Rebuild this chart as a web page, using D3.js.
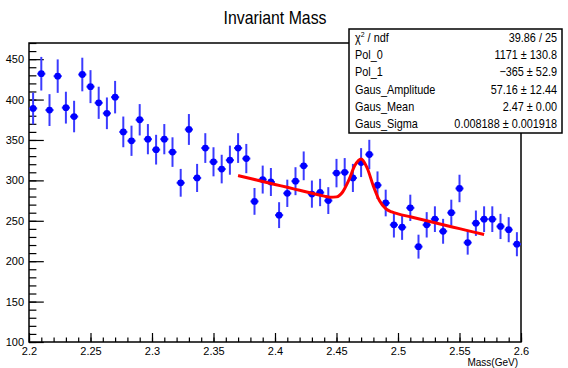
<!DOCTYPE html>
<html>
<head>
<meta charset="utf-8">
<script src="https://cdn.jsdelivr.net/npm/d3@7"></script>
<style>
  body { margin: 0; background: #fff; }
  text { font-family: "Liberation Sans", Arial, sans-serif; }
</style>
</head>
<body>
<div id="chart"></div>
<script>
// histogram: 60 bins between 2.2 and 2.6 GeV
const massRange = [2.2, 2.6];
const nBins = 60;
const counts = [389, 432, 387, 429, 390, 379, 431, 416, 396, 383,
                403, 360, 349, 375, 351, 338, 351, 335, 297, 363,
                303, 340, 323, 314, 325, 340, 327, 274, 301, 298,
                257, 284, 299, 318, 283, 285, 275, 309, 310, 303,
                322, 332, 294, 272, 245, 242, 266, 218, 245, 252,
                237, 260, 290, 223, 247, 252, 252, 243, 239, 221];
const errors = [19.7, 20.8, 19.7, 20.7, 19.7, 19.5, 20.8, 20.4, 19.9, 19.6,
                20.1, 19.0, 18.7, 19.4, 18.7, 18.4, 18.7, 18.3, 17.2, 19.1,
                17.4, 18.4, 18.0, 17.7, 18.0, 18.4, 18.1, 16.6, 17.3, 17.3,
                16.0, 16.9, 17.3, 17.8, 16.8, 16.9, 16.6, 17.6, 17.6, 17.4,
                17.9, 18.2, 17.1, 16.5, 15.7, 15.6, 16.3, 14.8, 15.7, 15.9,
                15.4, 16.1, 17.0, 14.9, 15.7, 15.9, 15.9, 15.6, 15.5, 14.9];

// fitted curve (pol1 + gaus)
const fitMass  = [2.37, 2.38, 2.39, 2.40, 2.41, 2.42, 2.43, 2.44, 2.445, 2.45,
                  2.455, 2.46, 2.465, 2.47, 2.475, 2.48, 2.485, 2.49, 2.495, 2.50,
                  2.51, 2.52, 2.53, 2.54, 2.55, 2.56, 2.57];
const fitValue = [306, 302.3, 298.7, 295, 291.4, 287.7, 284, 280.5, 279.1, 279.6,
                  285.6, 300.2, 318.7, 326.6, 315, 292.9, 274.7, 265, 260.9, 258.6,
                  254.9, 251.2, 247.6, 243.9, 240.3, 236.6, 233];

const xTicks = [2.2, 2.25, 2.3, 2.35, 2.4, 2.45, 2.5, 2.55, 2.6];
const yTicks = [100, 150, 200, 250, 300, 350, 400, 450];

const statNames  = ["χ² / ndf", "Pol_0", "Pol_1", "Gaus_Amplitude", "Gaus_Mean", "Gaus_Sigma"];
const statValues = ["39.86 / 25", "1171 ± 130.8", "−365 ± 52.9", "57.16 ± 12.44", "2.47 ± 0.00", "0.008188 ± 0.001918"];

const W = 568, H = 368;
const frame = { left: 29, right: 521, top: 43, bottom: 342 };

const svg = d3.select("#chart").append("svg")
    .attr("width", W)
    .attr("height", H);

const x = d3.scaleLinear().domain(massRange).range([frame.left, frame.right]);
const y = d3.scaleLinear().domain([100, 470]).range([frame.bottom, frame.top]);

const binW = (massRange[1] - massRange[0]) / nBins;
const bins = counts.map((c, i) => ({ m: massRange[0] + (i + 0.5) * binW, c: c, e: errors[i] }));

// title
svg.append("text")
    .attr("transform", `translate(${(frame.left + frame.right) / 2},24) scale(0.88,1)`)
    .attr("text-anchor", "middle")
    .attr("font-size", 18)
    .text("Invariant Mass");

// minor ticks
svg.append("g")
    .attr("transform", `translate(0,${frame.bottom})`)
    .call(d3.axisBottom(x).tickValues(d3.range(2.2, 2.6001, 0.01)).tickSize(-4.5).tickFormat(""))
    .call(g => g.select(".domain").remove());
svg.append("g")
    .attr("transform", `translate(${frame.left},0)`)
    .call(d3.axisLeft(y).tickValues(d3.range(100, 471, 10)).tickSize(-7.4).tickFormat(""))
    .call(g => g.select(".domain").remove());

// major ticks + labels
const xAxis = svg.append("g")
    .attr("transform", `translate(0,${frame.bottom})`)
    .call(d3.axisBottom(x).tickValues(xTicks).tickSize(-9).tickPadding(5)
        .tickFormat(d => String(+d.toFixed(2))));
xAxis.select(".domain").remove();
xAxis.selectAll("text").attr("font-size", 11).attr("font-family", "Liberation Sans").attr("fill", "#000");

const yAxis = svg.append("g")
    .attr("transform", `translate(${frame.left},0)`)
    .call(d3.axisLeft(y).tickValues(yTicks).tickSize(-14.8).tickPadding(5));
yAxis.select(".domain").remove();
yAxis.selectAll("text").attr("font-size", 11).attr("font-family", "Liberation Sans").attr("fill", "#000");

svg.selectAll(".tick line").attr("stroke", "#000").attr("stroke-width", 1.2);

svg.append("text")
    .attr("x", frame.right - 3)
    .attr("y", 366)
    .attr("text-anchor", "end")
    .attr("font-size", 10)
    .text("Mass(GeV)");

// frame
svg.append("rect")
    .attr("x", frame.left).attr("y", frame.top)
    .attr("width", frame.right - frame.left)
    .attr("height", frame.bottom - frame.top)
    .attr("fill", "none")
    .attr("stroke", "#000")
    .attr("stroke-width", 1.5);

// error bars
const pts = svg.append("g");
pts.selectAll(".ey").data(bins).enter().append("line")
    .attr("x1", d => x(d.m)).attr("x2", d => x(d.m))
    .attr("y1", d => y(d.c - d.e)).attr("y2", d => y(d.c + d.e))
    .attr("stroke", "#3b3bff").attr("stroke-width", 2);
pts.selectAll(".ex").data(bins).enter().append("line")
    .attr("x1", d => x(d.m - binW / 2)).attr("x2", d => x(d.m + binW / 2))
    .attr("y1", d => y(d.c)).attr("y2", d => y(d.c))
    .attr("stroke", "#3b3bff").attr("stroke-width", 2);
pts.selectAll("circle").data(bins).enter().append("circle")
    .attr("cx", d => x(d.m)).attr("cy", d => y(d.c))
    .attr("r", 3.4)
    .attr("fill", "#0000ff");

// fit line
svg.append("path")
    .datum(fitMass.map((m, i) => [m, fitValue[i]]))
    .attr("d", d3.line().x(d => x(d[0])).y(d => y(d[1])).curve(d3.curveMonotoneX))
    .attr("fill", "none")
    .attr("stroke", "#ff0000")
    .attr("stroke-width", 3);

// stats box
const box = { x0: 349, y0: 29, x1: 562, y1: 133 };
svg.append("rect")
    .attr("x", box.x0).attr("y", box.y0)
    .attr("width", box.x1 - box.x0).attr("height", box.y1 - box.y0)
    .attr("fill", "#fff").attr("stroke", "#000").attr("stroke-width", 1.5);
const rowH = (box.y1 - box.y0) / statNames.length;
statNames.forEach((name, i) => {
    const cy = box.y0 + rowH * (i + 0.5) + 4;
    const t = svg.append("text")
        .attr("transform", `translate(${box.x0 + 6},${cy}) scale(0.87,1)`)
        .attr("font-size", 12.5);
    if (i === 0) {
        t.append("tspan").text("χ");
        t.append("tspan").attr("font-size", 8).attr("dy", -5).text("2");
        t.append("tspan").attr("dy", 5).text(" / ndf");
    } else {
        t.text(name);
    }
    svg.append("text")
        .attr("transform", `translate(${box.x1 - 5},${cy}) scale(0.87,1)`)
        .attr("text-anchor", "end")
        .attr("font-size", 12.5)
        .text(statValues[i]);
});
</script>
</body>
</html>
